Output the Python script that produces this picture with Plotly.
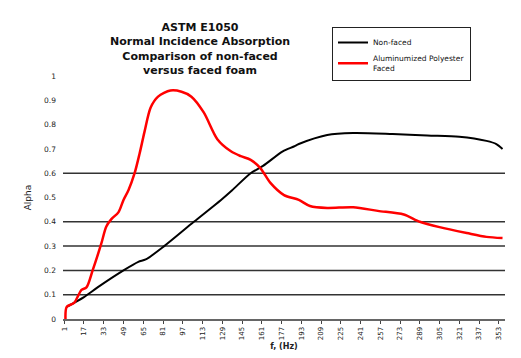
import plotly.graph_objects as go

# ---- data ----
title_text = "ASTM E1050<br>Normal Incidence Absorption<br>Comparison of non-faced<br>versus faced foam"

x_tick_values = [1, 17, 33, 49, 65, 81, 97, 113, 129, 145, 161, 177,
                 193, 209, 225, 241, 257, 273, 289, 305, 321, 337, 353]
x_tick_labels = ["1", "17", "33", "49", "65", "81", "97", "113", "129", "145",
                 "161", "177", "193", "209", "225", "241", "257", "273", "289",
                 "305", "321", "337", "353"]
y_tick_values = [0, 0.1, 0.2, 0.3, 0.4, 0.5, 0.6, 0.7, 0.8, 0.9, 1]
y_tick_labels = ["0", "0.1", "0.2", "0.3", "0.4", "0.5", "0.6", "0.7", "0.8", "0.9", "1"]
grid_values = [0.1, 0.2, 0.3, 0.4, 0.6]

nonfaced_x = [3, 17, 28, 49, 61, 67, 82, 106, 128, 137, 152, 162, 178, 187,
              191, 214, 235, 267, 295, 321, 343, 351, 356]
nonfaced_y = [0.05, 0.09, 0.13, 0.20, 0.235, 0.245, 0.30, 0.40, 0.49, 0.53,
              0.60, 0.63, 0.69, 0.71, 0.72, 0.757, 0.765, 0.761, 0.755, 0.75,
              0.733, 0.72, 0.70]

faced_x = [2, 3, 9, 15, 19, 24, 31, 35, 39, 45, 49, 53, 58, 62, 66, 71, 77,
           87, 96, 104, 114, 125, 136, 144, 152, 160, 168, 179, 191, 200, 214,
           235, 255, 276, 289, 305, 327, 343, 356]
faced_y = [0.0, 0.05, 0.066, 0.12, 0.13, 0.20, 0.31, 0.38, 0.41, 0.44, 0.49,
           0.53, 0.60, 0.68, 0.77, 0.87, 0.915, 0.94, 0.935, 0.915, 0.85, 0.74,
           0.69, 0.67, 0.655, 0.62, 0.56, 0.51, 0.49, 0.465, 0.457, 0.46, 0.445,
           0.43, 0.40, 0.378, 0.354, 0.338, 0.333]

# page body has an 8px margin: size the figure to fill the rest of the window
W, H = 513, 350

fig = go.Figure()
fig.add_trace(go.Scatter(x=nonfaced_x, y=nonfaced_y, mode="lines", name="Non-faced",
                         line=dict(color="black", width=2, shape="spline", smoothing=0.8)))
fig.add_trace(go.Scatter(x=faced_x, y=faced_y, mode="lines",
                         name="Aluminumized Polyester<br>Faced",
                         line=dict(color="#ff0000", width=2.5, shape="spline", smoothing=0.8)))

for g in grid_values:
    fig.add_shape(type="line", xref="paper", x0=0, x1=1, yref="y", y0=g, y1=g,
                  line=dict(color="#333333", width=1.5), layer="below")

fig.add_annotation(text=title_text, xref="paper", yref="paper",
                   x=(192 - 55) / 442, y=(311 - 11) / 243,
                   xanchor="center", yanchor="top", showarrow=False,
                   font=dict(family="DejaVu Sans", size=11, color="#111111", weight="bold"))

fig.update_layout(
    width=W, height=H,
    margin=dict(l=55, r=16, t=68, b=39, autoexpand=False),
    paper_bgcolor="white", plot_bgcolor="white",
    showlegend=True,
    legend=dict(xref="container", yref="container", x=324 / W, y=1 - 19 / H,
                xanchor="left", yanchor="top",
                bordercolor="#222222", borderwidth=1, bgcolor="white",
                font=dict(family="DejaVu Sans", size=7.5, color="#111111"),
                itemwidth=30, tracegroupgap=0, entrywidth=160, entrywidthmode="pixels"),
    xaxis=dict(range=[0, 358], tickmode="array", tickvals=x_tick_values,
               ticktext=x_tick_labels, tickangle=-90, showgrid=False, zeroline=False,
               showline=True, linecolor="#666666", linewidth=2, automargin=False,
               ticks="outside", ticklen=3, tickcolor="#444444",
               tickfont=dict(family="DejaVu Sans", size=7, color="#222222"),
               title=dict(text="<b>f, (Hz)</b>", standoff=4,
                          font=dict(family="DejaVu Sans", size=8, color="#222222"))),
    yaxis=dict(range=[0, 1], tickmode="array", tickvals=y_tick_values,
               ticktext=y_tick_labels, showgrid=False, zeroline=False, showline=False,
               ticks="", ticklabelstandoff=6, automargin=False,
               tickfont=dict(family="DejaVu Sans", size=7.5, color="#222222"),
               title=dict(text="Alpha", standoff=10,
                          font=dict(family="DejaVu Sans", size=9, color="#222222"))),
)

fig.write_html("out.html")
